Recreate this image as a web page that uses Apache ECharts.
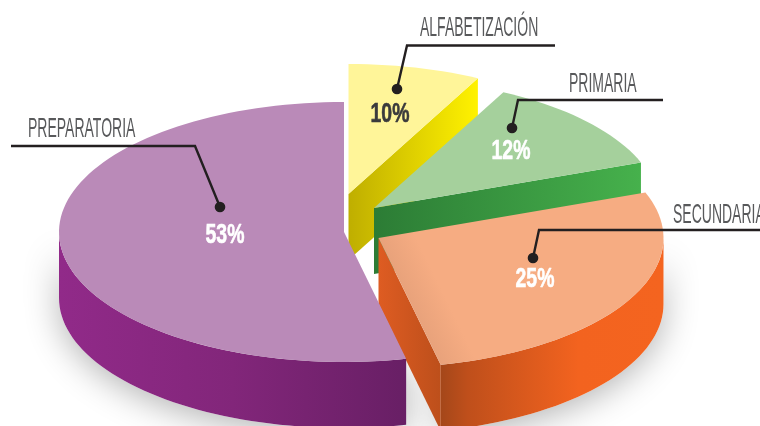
<!DOCTYPE html>
<html>
<head>
<meta charset="utf-8">
<style>
html,body{margin:0;padding:0;background:#fff;overflow:hidden}
#main{width:760px;height:426px}
</style>
<script src="https://cdn.jsdelivr.net/npm/echarts@6/dist/echarts.min.js"></script>
</head>
<body>
<div id="main"></div>
<script>
var categories = ['ALFABETIZACIÓN', 'PRIMARIA', 'SECUNDARIA', 'PREPARATORIA'];
// percentages as printed on the picture
var printedLabels = ['10%', '12%', '25%', '53%'];
// share of the circle each slice really takes in the picture (it differs a bit from the printed numbers)
var sliceShares = [7.5, 11.8, 27.2, 53.5];

var topColors = ['#fff599', '#a5d09c', '#f6ac82', '#ba8ab8'];
var faceColors = [
    [[0, '#bfae00'], [1, '#fff200']],
    [[0, '#2c7c35'], [1, '#46b14c']],
    [[0, '#de5c22'], [1, '#bd4f1b']],
    null];
var wallColors = [null, null,
    [[0, '#a4471a'], [0.12, '#bf4f1b'], [0.62, '#f3631f'], [1, '#f4641f']],
    [[0, '#912a89'], [0.5, '#82267a'], [1, '#681f65']]];
var pctColors = ['#3a3a3c', '#fff', '#fff', '#fff'];

var pie = {cx: 344, cy: 232, rx: 285, ry: 130, depth: 66};
var explode = [[4.5, -38], [30, -24], [34.5, 6], [0, 0]];
// label box, leader line and percent placement
var nameAt = [[420, 28.5], [569, 84], [673, 215.5], [28, 129.5]];
var leaders = [
    [[555, 45.5], [407, 45.5], [397, 89]],
    [[663, 100], [518, 100], [512, 128]],
    [[760, 230], [539, 230], [533, 258]],
    [[11, 146], [195, 146], [220, 207]]
];
var pctAt = [[390, 115], [511, 152], [535, 280], [225, 236]];
var nameScale = 0.5, pctScale = 0.72;

function rim(c, deg){
    var a = deg * Math.PI / 180;
    return [c[0] + pie.rx * Math.sin(a), c[1] - pie.ry * Math.cos(a)];
}
function arc(c, from, to){
    var pts = [], n = Math.max(2, Math.ceil(Math.abs(to - from) / 2));
    for (var k = 0; k <= n; k++) pts.push(rim(c, from + (to - from) * k / n));
    return pts;
}
function down(pts){
    return pts.map(function(p){ return [p[0], p[1] + pie.depth]; }).reverse();
}
function horiz(stops){
    return new echarts.graphic.LinearGradient(0, 0, 1, 0, stops.map(function(s){
        return {offset: s[0], color: s[1]};
    }));
}
// soft darkening of the orange top along its cut edge
function edgeShade(c, end, color){
    var p = rim(c, end), mx = (c[0] + p[0]) / 2, my = (c[1] + p[1]) / 2;
    var dx = p[0] - c[0], dy = p[1] - c[1], len = Math.sqrt(dx * dx + dy * dy);
    return new echarts.graphic.LinearGradient(mx, my, mx + dy / len * 34, my - dx / len * 34, [
        {offset: 0, color: '#e8a27b'}, {offset: 1, color: color}
    ], true);
}

function renderSlice(params, api){
    var i = params.dataIndex, share = api.value(0);
    var before = 0;
    for (var k = 0; k < i; k++) before += sliceShares[k];
    var start = before * 3.6, end = start + share * 3.6;
    var c = [pie.cx + explode[i][0], pie.cy + explode[i][1]];
    var kids = [];

    // side wall, only the part of the rim that looks to the viewer
    var a = Math.max(start, 90), b = Math.min(end, 270);
    if (b > a) {
        var edge = arc(c, a, b);
        var wall = edge.concat(down(edge));
        kids.push({type: 'polygon', z2: 1, shape: {points: wall}, style: {
            fill: '#fff', shadowBlur: 34, shadowColor: 'rgba(0,0,0,0.3)', shadowOffsetY: 6
        }});
        kids.push({type: 'polygon', z2: 10 + i, shape: {points: wall}, style: {fill: horiz(wallColors[i])}});
    }
    // cut face at the end of the slice
    if (faceColors[i]) {
        var rimPt = rim(c, end);
        var face = [c, rimPt, [rimPt[0], rimPt[1] + pie.depth], [c[0], c[1] + pie.depth]];
        kids.push({type: 'polygon', z2: 10 + i, shape: {points: face}, style: {fill: horiz(faceColors[i])}});
    }
    // top
    kids.push({type: 'polygon', z2: 10 + i, shape: {points: [c].concat(arc(c, start, end))}, style: {
        fill: i === 2 ? edgeShade(c, end, topColors[i]) : topColors[i]
    }});

    // leader, dot, name, percent
    var dot = leaders[i][2];
    kids.push({type: 'polyline', z2: 40, shape: {points: leaders[i]}, style: {fill: null, stroke: '#231f20', lineWidth: 2.4}});
    kids.push({type: 'circle', z2: 41, shape: {cx: dot[0], cy: dot[1], r: 5.3}, style: {fill: '#231f20'}});
    kids.push({type: 'text', z2: 42, x: nameAt[i][0], y: nameAt[i][1], scaleX: nameScale, style: {
        text: categories[i], x: 0, y: 0, align: 'left', verticalAlign: 'middle',
        fontFamily: '"Liberation Sans Narrow","Liberation Sans"', fontSize: 28, fill: '#58595b'
    }});
    kids.push({type: 'text', z2: 42, x: pctAt[i][0], y: pctAt[i][1], scaleX: pctScale, style: {
        text: printedLabels[i], x: 0, y: 0, align: 'center', verticalAlign: 'middle',
        fontFamily: '"Liberation Sans Narrow","Liberation Sans"', fontWeight: 'bold', fontSize: 27,
        fill: pctColors[i], stroke: pctColors[i], lineWidth: 0.6
    }});
    return {type: 'group', children: kids};
}

var chart = echarts.init(document.getElementById('main'), null, {renderer: 'canvas'});
chart.setOption({
    animation: false,
    backgroundColor: '#fff',
    series: [{
        type: 'custom',
        coordinateSystem: 'none',
        silent: true,
        clip: false,
        renderItem: renderSlice,
        data: sliceShares.map(function(v, i){ return {name: categories[i], value: [v]}; })
    }]
});
</script>
</body>
</html>
